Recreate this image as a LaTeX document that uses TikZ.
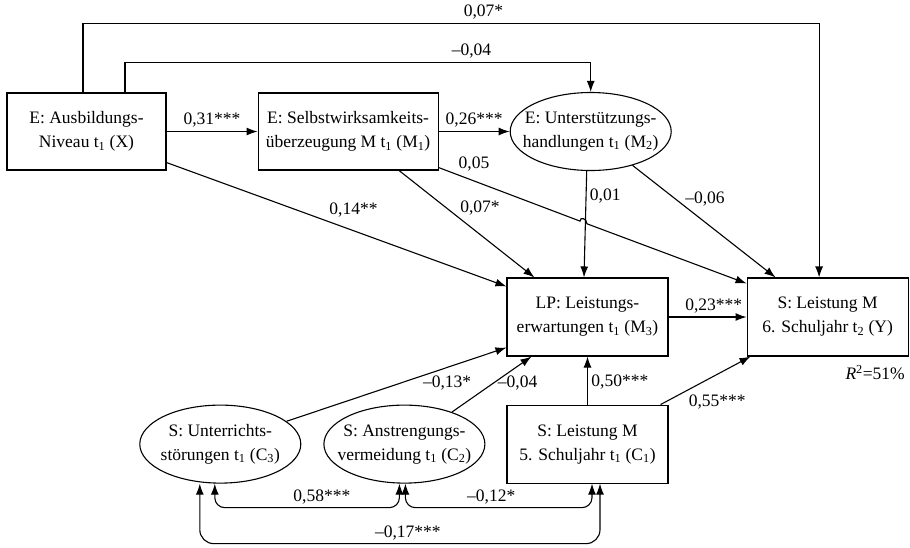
\documentclass[tikz,border=0pt]{standalone}
\usepackage{fontspec}
\setmainfont{Liberation Serif}
\usetikzlibrary{positioning}
\usetikzlibrary{shapes.geometric}
\usetikzlibrary{arrows.meta}
\tikzset{every node/.style={align=center,
    font=\fontsize{17.5}{24}\selectfont},
  box/.style={draw, rectangle, minimum width=161pt, minimum height=78pt},
  oval/.style={draw, ellipse, inner xsep=-30pt, inner ysep=0pt,
    minimum width=161pt, minimum height=78pt},
  every edge/.style={draw, ->}}

\begin{document}
\begin{tikzpicture}[x=1pt, y=-1pt, line width=1.1pt,
    >={Latex[length=11pt,width=8pt]}]
  \useasboundingbox (0,0) rectangle (910,547);

  % upper row
  \node [box, minimum width=159pt, minimum height=77pt] (niveau) at (86.5,131.5) {E: Ausbildungs-\\Niveau t\textsubscript{1} (X)};
  \node [box, minimum width=180pt, minimum height=77pt, right=91pt of niveau] (selbst) {E: Selbstwirksamkeits-\\überzeugung M t\textsubscript{1} (M\textsubscript{1})};
  \node [oval, right=71pt of selbst] (unterst) {E: Unterstützungs-\\handlungen t\textsubscript{1} (M\textsubscript{2})};

  % middle and lower rows
  \node [box] (erwart) at (587.5,317) {LP: Leistungs-\\erwartungen t\textsubscript{1} (M\textsubscript{3})};
  \node [box, right=78pt of erwart] (leistungY) {S: Leistung M\\6. Schuljahr t\textsubscript{2} (Y)};
  \node [box, below=48pt of erwart] (leistungC) {S: Leistung M\\5. Schuljahr t\textsubscript{1} (C\textsubscript{1})};
  \node [oval, left=21pt of leistungC] (anstr) {S: Anstrengungs-\\vermeidung t\textsubscript{1} (C\textsubscript{2})};
  \node [oval, left=22pt of anstr] (stoer) {S: Unterrichts-\\störungen t\textsubscript{1} (C\textsubscript{3})};
  \node [anchor=north east] (rsq) at ([yshift=-5pt]leistungY.south east) {\textit{R}\textsuperscript{2}=51\%};

  \coordinate (hopin) at (580,221.1);
  \coordinate (hopout) at (587,223.8);

  \draw (niveau) edge node[above] {0,31***} (selbst);
  \draw (selbst) edge node[above] {0,26***} (unterst);
  \draw[->] ([xshift=-3.5pt]niveau.north) -- ++(0,-69) -| node[pos=0.272, above] {0,07*} ([xshift=-8.5pt]leistungY.north);
  \draw[->] ([xshift=38.5pt]niveau.north) -- ++(0,-30) -| node[pos=0.372, above] {--0,04} (unterst.north);
  \draw ([yshift=8pt]niveau.south east) edge node[pos=0.55, above=10pt] {0,14**} ([yshift=-9pt]erwart.north west);
  \draw ([xshift=51pt]selbst.south) edge node[pos=0.35, right=10pt] {0,07*} ([xshift=28pt]erwart.north west);
  \draw[->] ([yshift=3pt]selbst.south east) -- node[pos=0.25, above=6pt] {0,05} (hopin)
    .. controls ([yshift=5pt]hopin) and ([yshift=5pt]hopout) .. (hopout)
    -- ([yshift=-6pt]leistungY.north west);
  \draw ([xshift=-4pt]unterst.south) edge node[pos=0.23, right] {0,01} ([xshift=-3.5pt]erwart.north);
  \draw (unterst.-39) edge node[pos=0.3, right=6pt] {--0,06} ([xshift=29pt]leistungY.north west);

  \draw (erwart) edge node[pos=0.58, above] {0,23***} (leistungY);
  \draw (leistungC) edge node[pos=0.46, right] {0,50***} (erwart);
  \draw ([xshift=-8pt]leistungC.north east) edge node[pos=0.63, below=17pt] {0,55***} ([xshift=4pt]leistungY.south west);
  \draw (stoer.19) edge node[pos=0.73, below=5pt] {--0,13*} ([yshift=9pt]erwart.south west);
  \draw (anstr.34) edge node[pos=0.53, right] {--0,04} ([xshift=25pt]erwart.south west);

  % correlations
  \draw[<->, rounded corners=10pt] ([xshift=-5.5pt]stoer.south) -- ++(0,24) -| node[pos=0.29, above] {0,58***} ([xshift=-5pt]anstr.south);
  \draw[<->, rounded corners=10pt] ([xshift=1pt]anstr.south) -- ++(0,24) -| node[pos=0.23, above] {--0,12*} ([xshift=4.5pt]leistungC.south);
  \draw[<->, rounded corners=14pt] ([xshift=-20.5pt]stoer.south) -- ++(0,60) -| node[pos=0.26, above] {--0,17***} ([xshift=12.5pt]leistungC.south);
\end{tikzpicture}
\end{document}
